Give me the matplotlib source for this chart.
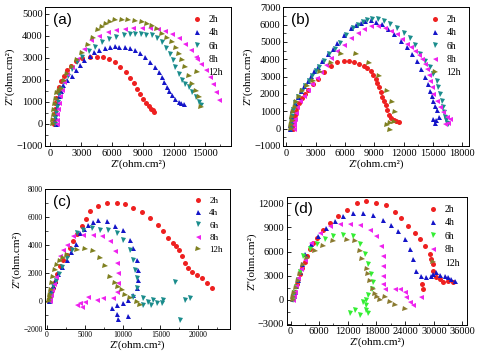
import matplotlib
matplotlib.use("Agg")
import matplotlib.pyplot as plt
from matplotlib.ticker import MultipleLocator, AutoMinorLocator

labels = ["2h", "4h", "6h", "8h", "12h"]

# ---------------- panel (a) ----------------
a_2h_x = [300, 320, 350, 400, 480, 580, 700, 850, 1050, 1300, 1600, 2000, 2500, 3100, 3800, 4500, 5100, 5700, 6300, 6800, 7300, 7700, 8100, 8400, 8700, 9000, 9300, 9600, 9800, 10000, 10100]
a_2h_y = [0, 200, 450, 700, 950, 1200, 1450, 1700, 1950, 2200, 2450, 2650, 2850, 2980, 3050, 3060, 3040, 2950, 2800, 2600, 2350, 2100, 1850, 1600, 1350, 1150, 950, 800, 700, 620, 560]
a_4h_x = [500, 520, 560, 620, 700, 820, 1000, 1250, 1640, 2050, 2460, 2900, 3280, 3800, 4260, 4750, 5250, 5750, 6230, 6700, 7200, 7700, 8200, 8700, 9180, 9650, 10160, 10500, 10800, 11050, 11300, 11550, 11800, 12100, 12460, 12700, 12950]
a_4h_y = [0, 250, 500, 750, 1000, 1250, 1500, 1750, 1980, 2200, 2430, 2660, 2885, 3080, 3260, 3370, 3460, 3500, 3520, 3510, 3490, 3430, 3340, 3200, 3040, 2820, 2580, 2350, 2130, 1900, 1680, 1480, 1300, 1130, 1000, 930, 890]
a_6h_x = [450, 480, 530, 600, 700, 850, 1050, 1350, 1700, 2100, 2600, 3100, 3700, 4300, 5000, 5700, 6400, 7100, 7700, 8200, 8800, 9300, 9840, 10350, 10820, 11250, 11640, 11900, 12130, 12450, 12790, 13100, 13440, 13750, 14100, 14400, 14600]
a_6h_y = [0, 250, 500, 750, 1000, 1300, 1600, 1900, 2200, 2500, 2800, 3050, 3300, 3500, 3700, 3850, 3970, 4050, 4090, 4100, 4090, 4060, 4020, 3880, 3715, 3450, 3190, 2900, 2580, 2280, 1980, 1800, 1680, 1450, 1220, 1000, 850]
a_8h_x = [600, 620, 660, 720, 800, 920, 1100, 1350, 1650, 2100, 2620, 3250, 3930, 4700, 5570, 6400, 7210, 8050, 8850, 9700, 10490, 11150, 11800, 12450, 13110, 13600, 14100, 14600, 15080, 15450, 15740, 16100, 16390]
a_8h_y = [0, 200, 450, 700, 950, 1250, 1550, 1900, 2250, 2600, 2960, 3400, 3790, 4000, 4170, 4260, 4320, 4360, 4370, 4360, 4320, 4220, 4090, 3880, 3640, 3350, 3040, 2740, 2430, 2130, 1830, 1450, 1070]
a_12h_x = [250, 270, 300, 350, 420, 520, 650, 800, 980, 1300, 1640, 2100, 2620, 3100, 3610, 4100, 4590, 5000, 5410, 5800, 6230, 6900, 7540, 8200, 8850, 9350, 9840, 10350, 10820, 11300, 11800, 12150, 12460, 12800, 13110, 13450, 13770, 14100, 14430, 14650]
a_12h_y = [0, 200, 400, 650, 900, 1150, 1400, 1500, 1600, 1950, 2280, 2600, 2885, 3230, 3565, 3900, 4245, 4420, 4550, 4640, 4700, 4720, 4730, 4690, 4620, 4550, 4470, 4300, 4090, 3900, 3715, 3450, 3190, 2900, 2580, 2200, 1830, 1500, 1220, 770]

# ---------------- panel (b) ----------------
b_2h_x = [700, 720, 760, 820, 900, 1000, 1150, 1350, 1600, 1900, 2250, 2700, 3210, 3890, 4570, 5240, 5920, 6440, 6935, 7450, 7950, 8300, 8630, 8900, 9130, 9300, 9470, 9650, 9810, 10000, 10150, 10320, 10490, 10750, 11000, 11200, 11500]
b_2h_y = [0, 200, 400, 600, 800, 1000, 1250, 1500, 1750, 2000, 2250, 2550, 2860, 3240, 3630, 3820, 3910, 3900, 3820, 3740, 3630, 3500, 3340, 3100, 2860, 2620, 2390, 2100, 1810, 1570, 1340, 1050, 760, 600, 480, 420, 380]
b_4h_x = [400, 420, 450, 510, 600, 850, 1180, 1500, 1860, 2200, 2540, 2880, 3210, 3700, 4230, 4750, 5240, 5900, 6600, 7100, 7610, 8100, 8630, 9200, 9810, 10400, 11000, 11700, 12350, 12850, 13360, 13800, 14200, 14500, 14720, 14900, 15050, 15250, 15390, 15600, 15300, 15050, 15200]
b_4h_y = [0, 200, 450, 750, 1050, 1450, 1810, 2150, 2480, 2760, 3050, 3300, 3530, 3920, 4290, 4620, 4960, 5400, 5820, 5960, 6110, 6190, 6240, 6160, 6010, 5750, 5440, 5060, 4680, 4300, 3910, 3430, 2960, 2580, 2190, 1900, 1620, 1330, 1050, 700, 480, 560, 330]
b_6h_x = [450, 470, 500, 560, 650, 900, 1250, 1600, 1950, 2300, 2650, 3000, 3350, 3850, 4400, 4950, 5450, 6100, 6800, 7300, 7800, 8300, 8800, 9350, 9950, 10600, 11300, 12000, 12700, 13200, 13700, 14200, 14720, 15050, 15390, 15560, 15730, 15900, 16070, 16150, 16240, 16300, 16410, 16500]
b_6h_y = [0, 200, 450, 750, 1050, 1450, 1810, 2150, 2480, 2760, 3050, 3300, 3530, 3920, 4290, 4620, 4960, 5400, 5820, 6000, 6150, 6250, 6300, 6300, 6230, 6050, 5800, 5500, 5250, 4800, 4290, 3900, 3530, 3150, 2770, 2400, 2000, 1600, 1240, 950, 670, 500, 350, 250]
b_8h_x = [750, 770, 800, 850, 950, 1150, 1450, 1800, 2200, 2650, 3100, 3550, 4050, 4600, 5200, 5900, 6600, 7300, 8000, 8700, 9400, 10100, 10700, 11330, 11850, 12350, 12800, 13190, 13550, 13870, 14150, 14380, 14550, 14720, 14900, 15050, 15400, 15730, 16050, 16410, 16700, 16500, 16200]
b_8h_y = [0, 200, 400, 570, 900, 1250, 1600, 1900, 2200, 2550, 2900, 3240, 3650, 4050, 4450, 4850, 5200, 5500, 5750, 5900, 5900, 5800, 5650, 5440, 5150, 4870, 4680, 4480, 4250, 4010, 3720, 3440, 3100, 2770, 2400, 2000, 1600, 1240, 950, 670, 570, 350, 250]
b_12h_x = [500, 520, 560, 620, 700, 850, 1050, 1300, 1650, 2100, 2700, 3500, 4570, 5580, 7100, 8460, 9470, 10320, 10830, 11160, 11000, 10660, 10320, 10660]
b_12h_y = [0, 200, 450, 700, 950, 1250, 1550, 1850, 2150, 2450, 2750, 3250, 3810, 4290, 4290, 3810, 3050, 2190, 1530, 950, 380, 300, 190, -100]

# ---------------- panel (c) ----------------
c_2h_x = [300, 330, 400, 550, 750, 1060, 1400, 1720, 2150, 2600, 3050, 3490, 4000, 4590, 5150, 5700, 6800, 8000, 9230, 10330, 11430, 12540, 13640, 14750, 15410, 16070, 16730, 17050, 17400, 17840, 18280, 18720, 19160, 19820, 20490, 21150, 21810]
c_2h_y = [0, 150, 290, 600, 950, 1370, 1900, 2460, 2900, 3300, 3800, 4270, 4800, 5350, 5900, 6430, 6790, 7040, 6990, 6920, 6670, 6360, 5950, 5470, 4990, 4500, 4140, 3900, 3660, 3180, 2700, 2340, 2100, 1860, 1610, 1250, 890]
c_4h_x = [350, 380, 450, 600, 800, 1100, 1500, 2000, 2600, 3200, 3800, 4370, 4900, 5470, 6100, 6800, 7900, 9010, 10110, 11000, 11430, 11880, 12100, 12100, 11880, 11430, 10770, 10110, 9230, 8560, 9230, 9450, 10770]
c_4h_y = [0, 200, 400, 700, 1050, 1450, 1900, 2400, 2950, 3500, 4100, 4870, 5150, 5470, 5650, 5780, 5710, 5350, 5110, 4390, 3780, 2940, 2220, 1490, 890, 410, 50, -190, -310, -550, -920, -1280, -1080]
c_6h_x = [400, 430, 500, 650, 850, 1150, 1550, 2050, 2650, 3300, 3930, 4810, 5920, 7020, 8120, 9230, 10110, 11000, 11430, 11660, 11880, 11880, 11430, 12760, 13420, 14080, 14530, 15410, 16950, 18280, 18940, 17620, 12760, 13780, 15190]
c_6h_y = [0, 200, 400, 700, 1050, 1450, 1900, 2450, 3050, 3650, 4870, 5110, 5230, 5110, 5110, 4870, 4390, 3660, 2940, 2220, 1610, 890, 290, 170, -70, 50, -190, 50, 1370, 50, 170, -1400, -310, -310, -190]
c_8h_x = [450, 480, 550, 700, 900, 1200, 1720, 2150, 2600, 3490, 4810, 6140, 7240, 8340, 9010, 9230, 9450, 9450, 9230, 8780, 7460, 6580, 5470, 5030, 4370, 3930, 4590]
c_8h_y = [0, 200, 450, 800, 1200, 1700, 3180, 3650, 4020, 4630, 4750, 4750, 4630, 4270, 3540, 2700, 1980, 1250, 650, 170, 170, 50, 290, -70, -190, -310, -430]
c_12h_x = [350, 380, 420, 500, 620, 800, 1060, 1400, 1720, 2150, 2600, 3930, 5030, 6140, 7020, 7680, 8340, 9010, 9450, 9890, 10330, 10990, 11880, 12320]
c_12h_y = [0, 200, 450, 800, 1250, 1700, 2220, 2550, 2820, 3080, 3300, 3660, 3710, 3540, 3060, 2460, 1730, 1250, 1010, 770, 410, 170, -70, -310]

# ---------------- panel (d) ----------------
d_2h_x = [600, 700, 900, 1260, 1600, 1950, 2450, 3000, 3500, 4080, 4800, 5470, 6860, 8250, 9990, 11730, 13820, 15900, 17990, 20080, 21820, 23210, 24600, 25990, 27030, 28080, 29120, 29470, 29820, 29820, 30520, 31220, 31920, 32970, 34010, 27450, 27660]
d_2h_y = [150, 550, 960, 1990, 2600, 3210, 3950, 4640, 5450, 6270, 7000, 7700, 8720, 9540, 10360, 11180, 12080, 12320, 12080, 11790, 10970, 10160, 9140, 8320, 7500, 6680, 5660, 5050, 4440, 3620, 2800, 2600, 2190, 2390, 2250, 2000, 1400]
d_4h_x = [550, 650, 850, 1150, 1500, 2000, 2500, 3000, 4390, 5780, 7530, 9270, 11010, 13100, 15190, 17280, 19370, 21120, 22510, 23900, 24950, 25640, 26340, 27390, 28430, 29470, 29820, 30520, 31220, 32260, 32970, 33660, 34360]
d_4h_y = [100, 500, 950, 1700, 2500, 3400, 4500, 5660, 6880, 7900, 8920, 9740, 10360, 10850, 10850, 10560, 9950, 9330, 8520, 7500, 6270, 5050, 3620, 3000, 2880, 3000, 3210, 3410, 3080, 3000, 2800, 2600, 2310]
d_6h_x = [500, 600, 800, 1100, 1500, 2000, 2680, 4080, 5470, 7210, 8950, 11050, 13100, 14500, 15540, 16240, 16940, 17280, 17140, 16240, 15900, 15760, 15900, 13450, 12450, 14530, 16240, 15200]
d_6h_y = [0, 400, 900, 1600, 2500, 3500, 5460, 6270, 6880, 7500, 7910, 8110, 7910, 6880, 5660, 4440, 3210, 2190, 1370, 550, -60, -680, -1290, -1290, -1700, -1900, -1700, -270]
d_8h_x = [550, 650, 850, 1150, 1600, 2200, 3000, 4390, 6130, 8220, 10300, 12390, 14480, 16570, 17960, 19000, 19370, 19370, 19370, 19370, 19720, 21810, 22860, 23900, 24250, 24950, 27390, 25640]
d_8h_y = [0, 450, 950, 1700, 2700, 3800, 5000, 7090, 8310, 9130, 9410, 9410, 9330, 8720, 7900, 6680, 5460, 4230, 3010, 1990, 1370, 1290, 1370, 960, 350, -270, 350, -680]
d_12h_x = [500, 600, 800, 1100, 1500, 2000, 2600, 3360, 5120, 6860, 8950, 11750, 13500, 14540, 14900, 15950, 16300, 16650, 17350, 17700, 18050, 18750, 19790, 20830, 21880, 23970]
d_12h_y = [0, 400, 850, 1500, 2300, 3200, 4300, 5250, 6060, 6680, 7290, 7420, 7290, 6060, 5050, 3830, 3210, 2390, 1370, 760, 350, -60, 350, -270, -680, -1090]

panel_data = {
    "a": [(a_2h_x, a_2h_y), (a_4h_x, a_4h_y), (a_6h_x, a_6h_y), (a_8h_x, a_8h_y), (a_12h_x, a_12h_y)],
    "b": [(b_2h_x, b_2h_y), (b_4h_x, b_4h_y), (b_6h_x, b_6h_y), (b_8h_x, b_8h_y), (b_12h_x, b_12h_y)],
    "c": [(c_2h_x, c_2h_y), (c_4h_x, c_4h_y), (c_6h_x, c_6h_y), (c_8h_x, c_8h_y), (c_12h_x, c_12h_y)],
    "d": [(d_2h_x, d_2h_y), (d_4h_x, d_4h_y), (d_6h_x, d_6h_y), (d_8h_x, d_8h_y), (d_12h_x, d_12h_y)],
}

markers = ["o", "^", "v", "<", ">"]
colors_std = ["#ee2020", "#1414c8", "#1a8c8c", "#ee22ee", "#7f8020"]
colors_d = ["#ee2020", "#1414c8", "#33ee33", "#ee22ee", "#8a7a30"]

serif = ["Liberation Serif", "DejaVu Serif"]
sans = ["Liberation Sans", "DejaVu Sans"]

cfg = {
    "a": dict(pos=[0.0946, 0.5876, 0.387, 0.392], xlim=(-500, 17500), ylim=(-1000, 5300),
              xmaj=3000, ymaj=1000, tfs=7.5, lfs=8, legfs=7, colors=colors_std),
    "b": dict(pos=[0.5914, 0.5876, 0.387, 0.392], xlim=(-300, 18650), ylim=(-1000, 7000),
              xmaj=3000, ymaj=1000, tfs=7.5, lfs=8, legfs=7, colors=colors_std),
    "c": dict(pos=[0.0946, 0.0715, 0.3855, 0.394], xlim=(-200, 24200), ylim=(-2000, 8000),
              xmaj=5000, ymaj=2000, tfs=5.5, lfs=8, legfs=6.5, colors=colors_std),
    "d": dict(pos=[0.5985, 0.0828, 0.377, 0.360], xlim=(-800, 37000), ylim=(-3100, 12750),
              xmaj=6000, ymaj=3000, tfs=7.5, lfs=8, legfs=7, colors=colors_d),
}

fig = plt.figure(figsize=(4.79, 3.54), dpi=100)
for key in ["a", "b", "c", "d"]:
    c = cfg[key]
    ax = fig.add_axes(c["pos"])
    for (xs, ys), m, col, lab in zip(panel_data[key], markers, c["colors"], labels):
        ax.plot(xs, ys, linestyle="none", marker=m, color=col, ms=3.6, mew=0, label=lab)
    ax.set_xlim(*c["xlim"])
    ax.set_ylim(*c["ylim"])
    ax.xaxis.set_major_locator(MultipleLocator(c["xmaj"]))
    ax.yaxis.set_major_locator(MultipleLocator(c["ymaj"]))
    ax.xaxis.set_minor_locator(AutoMinorLocator(2))
    ax.yaxis.set_minor_locator(AutoMinorLocator(2))
    ax.tick_params(which="both", direction="in", top=False, right=False, pad=2)
    ax.tick_params(which="major", length=3, width=0.6)
    ax.tick_params(which="minor", length=1.8, width=0.5)
    for lbl in ax.get_xticklabels() + ax.get_yticklabels():
        lbl.set_fontfamily(serif)
        lbl.set_fontsize(c["tfs"])
    for sp in ax.spines.values():
        sp.set_linewidth(0.7)
    ax.set_xlabel("Z'(ohm.cm²)", fontfamily=serif, fontsize=c["lfs"], labelpad=1)
    ax.set_ylabel("Z''(ohm.cm²)", fontfamily=serif, fontsize=c["lfs"], labelpad=1)
    ax.text(0.04, 0.96, "(%s)" % key, transform=ax.transAxes, ha="left", va="top",
            fontfamily=sans, fontsize=11)
    leg = ax.legend(loc="upper right", frameon=False, prop={"family": serif, "size": c["legfs"]},
                    handlelength=1.2, handletextpad=0.6, labelspacing=0.45, borderaxespad=0.4,
                    markerscale=1.0)

fig.savefig("out.png", dpi=100)
